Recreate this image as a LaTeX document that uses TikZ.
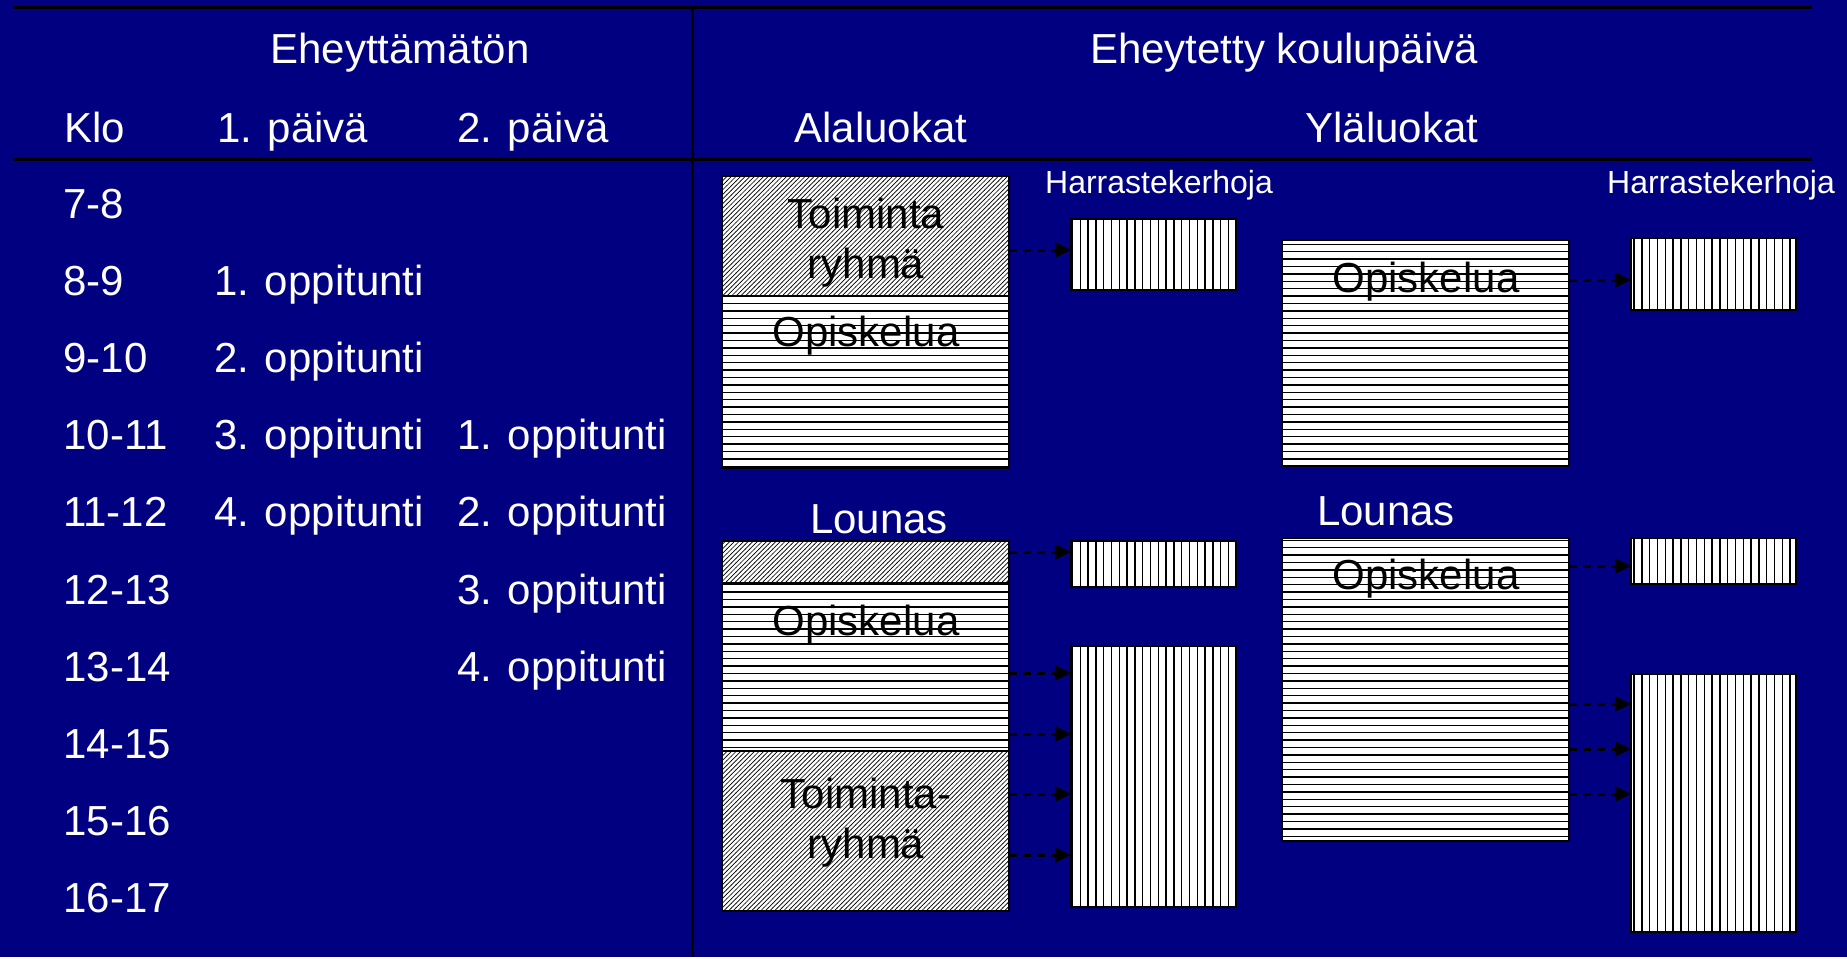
\documentclass[tikz,border=0pt]{standalone}
\usepackage{fontspec}
\setmainfont{Liberation Sans}
\usetikzlibrary{positioning,arrows.meta,patterns}
\definecolor{slide}{RGB}{0,0,128}
\pgfdeclarepatternformonly{hlines}{\pgfpoint{-1pt}{0pt}}{\pgfpoint{1001pt}{3.7pt}}{\pgfpoint{1000pt}{3.7pt}}
{
	\pgfsetlinewidth{0.7pt}
	\pgfpathmoveto{\pgfpoint{-1pt}{1.85pt}}
	\pgfpathlineto{\pgfpoint{1001pt}{1.85pt}}
	\pgfusepath{stroke}
}
\pgfdeclarepatternformonly{vlines}{\pgfpoint{0pt}{-1pt}}{\pgfpoint{3.9pt}{1001pt}}{\pgfpoint{3.9pt}{1000pt}}
{
	\pgfsetlinewidth{0.7pt}
	\pgfpathmoveto{\pgfpoint{1.95pt}{-1pt}}
	\pgfpathlineto{\pgfpoint{1.95pt}{1001pt}}
	\pgfusepath{stroke}
}
\pgfdeclarepatternformonly{dlines}{\pgfpoint{-1pt}{-1pt}}{\pgfpoint{3.3pt}{3.3pt}}{\pgfpoint{2.3pt}{2.3pt}}
{
	\pgfsetlinewidth{0.33pt}
	\pgfpathmoveto{\pgfpoint{-0.1pt}{-0.1pt}}
	\pgfpathlineto{\pgfpoint{2.4pt}{2.4pt}}
	\pgfusepath{stroke}
}
\tikzset{
	txt/.style={text=white, font=\fontsize{21}{25}\selectfont, inner sep=0pt, anchor=base},
	row/.style={txt, anchor=base west},
	small/.style={txt, font=\fontsize{16}{19}\selectfont},
	intxt/.style={font=\fontsize{21}{25}\selectfont, inner sep=0pt, anchor=base, align=center},
	hatch/.style={draw=black, line width=1pt, inner sep=0pt, outer sep=0pt, anchor=north west, preaction={fill=white}},
	toim/.style={hatch, pattern=dlines},
	opis/.style={hatch, pattern=hlines},
	kerho/.style={hatch, pattern=vlines},
	wide/.style={minimum width=143.5pt},
	narrow/.style={minimum width=82.5pt},
	hop/.style={dash pattern=on 4pt off 3pt, line width=1.5pt, -{Triangle[length=8pt, width=7.5pt]}},
	rule/.style={line width=1.5pt}
}
\begin{document}
\begin{tikzpicture}[x=0.5pt, y=-0.5pt]
	\fill [slide] (0,0) rectangle (1847,957);
	\draw [rule] (13,7) -- (1812,7);
	\draw [rule] (13,159) -- (1812,159);
	\draw [rule] (692,7) -- (692,957);

	\node (ehe) [txt] at (400,63) {Eheyttämätön};
	\node (eheytetty) [txt] at (1284,63) {Eheytetty koulupäivä};
	\node (klo) [row] at (64,142) {Klo};
	\node (paiva1) [row] at (217,142) {1. päivä};
	\node (paiva2) [row] at (457,142) {2. päivä};
	\node (ala) [txt] at (881,142) {Alaluokat};
	\node (yla) [txt] at (1392,142) {Yläluokat};
	\foreach \t [count=\i from 0] in {7-8,8-9,9-10,10-11,11-12,12-13,13-14,14-15,15-16,16-17}
		\node (klo\i) [row] at (63,218+77.2*\i) {\t};
	\foreach \n in {1,...,4} {
		\node (d1\n) [row] at (214,218+77.2*\n) {\n. oppitunti};
		\node (d2\n) [row] at (457,218+77.2*\n+154.4) {\n. oppitunti};
	}

	\node (kerhoA) [small] at (1159,193) {Harrastekerhoja};
	\node (kerhoY) [small] at (1721,193) {Harrastekerhoja};
	\node (lounasA) [txt] at (879,533) {Lounas};
	\node (lounasY) [txt] at (1386,525) {Lounas};

	\node (A1) [toim, wide, minimum height=60pt] at (722,176) {};
	\node (A2) [opis, wide, minimum height=86pt, below=0pt of A1] {};
	\node (A3) [toim, wide, minimum height=21pt] at (722,541) {};
	\node (A4) [opis, wide, minimum height=84pt, below=0pt of A3] {};
	\node (A5) [toim, wide, minimum height=80pt, below=0pt of A4] {};
	\node (H1) [kerho, narrow, minimum height=35.5pt] at (1071,219) {};
	\node (H2) [kerho, narrow, minimum height=23pt] at (1071,541) {};
	\node (H3) [kerho, narrow, minimum height=130.5pt] at (1071,646) {};
	\node (Y1) [opis, wide, minimum height=113pt] at (1282,240) {};
	\node (Y2) [opis, wide, minimum height=151.5pt] at (1282,538) {};
	\node (YH1) [kerho, narrow, minimum height=36pt] at (1631,238) {};
	\node (YH2) [kerho, narrow, minimum height=23pt] at (1631,538) {};
	\node (YH3) [kerho, narrow, minimum height=129pt] at (1631,674) {};

	\node (A1t) [intxt] at (866,278) {Toiminta\\ryhmä};
	\node (A2t) [intxt] at (866,346) {Opiskelua};
	\node (A4t) [intxt] at (866,635) {Opiskelua};
	\node (A5t) [intxt] at (866,858) {Toiminta-\\ryhmä};
	\node (Y1t) [intxt] at (1426,292) {Opiskelua};
	\node (Y2t) [intxt] at (1426,589) {Opiskelua};

	\draw [hop] (A1.east |- 0,250) -- (H1.west |- 0,250);
	\draw [hop] (A3.east |- 0,552) -- (H2.west |- 0,552);
	\foreach \s/\y in {A4/673,A4/734,A5/794,A5/855}
		\draw [hop] (\s.east |- 0,\y) -- (H3.west |- 0,\y);
	\draw [hop] (Y1.east |- 0,280) -- (YH1.west |- 0,280);
	\draw [hop] (Y2.east |- 0,566) -- (YH2.west |- 0,566);
	\foreach \y in {704,749,794}
		\draw [hop] (Y2.east |- 0,\y) -- (YH3.west |- 0,\y);
\end{tikzpicture}
\end{document}
